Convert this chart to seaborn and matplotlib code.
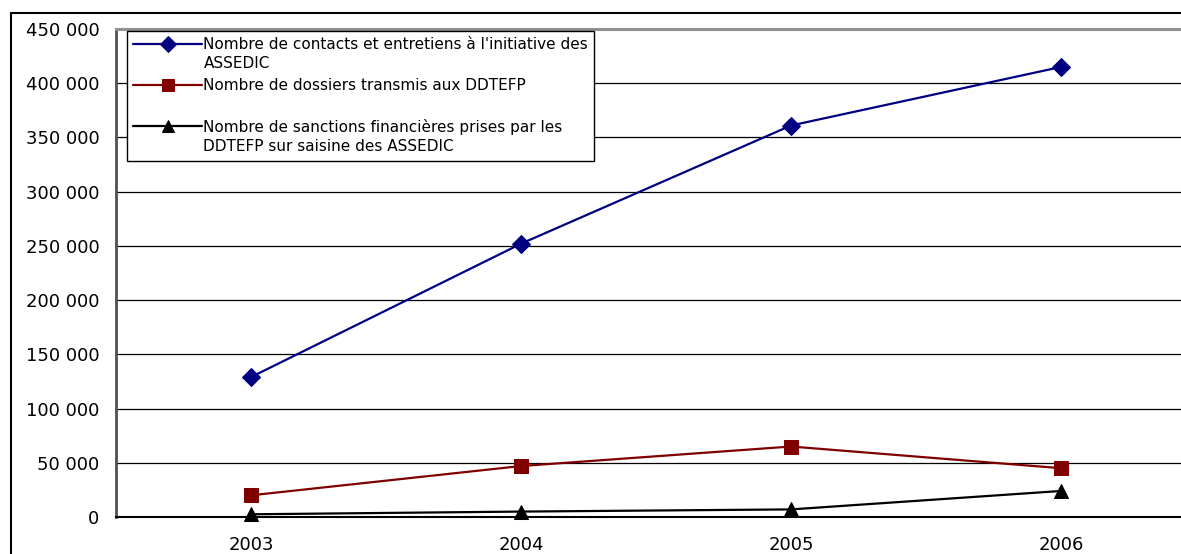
import numpy as np
import pandas as pd
import matplotlib
matplotlib.use("Agg")
import matplotlib.pyplot as plt
import seaborn as sns
from matplotlib.lines import Line2D
from matplotlib.ticker import FuncFormatter, FixedLocator

# data
years = ["2003", "2004", "2005", "2006"]
contacts = [129000, 252000, 361000, 415000]
dossiers = [20000, 47000, 65000, 45000]
sanctions = [2500, 5000, 7000, 24000]

labels = [
    "Nombre de contacts et entretiens à l'initiative des\nASSEDIC",
    "Nombre de dossiers transmis aux DDTEFP\n",
    "Nombre de sanctions financières prises par les\nDDTEFP sur saisine des ASSEDIC",
]
colors = ["#000080", "#800000", "#000000"]
markers = ["D", "s", "^"]
msizes = [9, 10, 10]
yticks = list(range(0, 450001, 50000))

sns.set_style("white")
plt.rcParams["font.family"] = ["DejaVu Sans"]
plt.rcParams["text.color"] = "black"
plt.rcParams["xtick.color"] = "black"
plt.rcParams["ytick.color"] = "black"

fig = plt.figure(figsize=(11.81, 5.54), dpi=100)
ax = fig.add_axes([116 / 1181, 37 / 554, 1080 / 1181, 488 / 554])

x = np.arange(len(years))
for vals, lab, col, mk, ms in zip([contacts, dossiers, sanctions], labels, colors, markers, msizes):
    sns.lineplot(x=x, y=vals, ax=ax, color=col, marker=mk, markersize=ms,
                 markeredgecolor=col, linewidth=1.6, label=lab, clip_on=False)

ax.set_xlim(-0.5, 3.5)
ax.set_ylim(0, 450000)
ax.set_yticks(yticks)
ax.yaxis.set_major_formatter(FuncFormatter(lambda v, p: f"{int(v):,}".replace(",", " ")))
ax.set_xticks(x)
ax.set_xticklabels(years)
ax.xaxis.set_minor_locator(FixedLocator(np.arange(-0.5, 4, 1)))
ax.tick_params(axis="x", which="major", length=0, pad=14, labelsize=13)
ax.tick_params(axis="x", which="minor", length=5, width=1, color="black", direction="out")
ax.tick_params(axis="y", length=5, width=1, color="black", direction="out", pad=7, labelsize=13)
ax.set_xlabel("")
ax.set_ylabel("")

ax.yaxis.grid(True, color="black", linewidth=0.9)
ax.spines["top"].set_color("#909090")
ax.spines["top"].set_linewidth(2.2)
ax.spines["left"].set_color("#505050")
ax.spines["left"].set_linewidth(2)
ax.spines["bottom"].set_color("black")
ax.spines["bottom"].set_linewidth(1.5)
ax.spines["right"].set_visible(False)

leg = ax.legend(loc="upper left", bbox_to_anchor=(0.0102, 0.996), fontsize=11,
                frameon=True, fancybox=False, framealpha=1, edgecolor="black",
                borderpad=0.4, handlelength=4.5, handleheight=1.3, handletextpad=0.1,
                labelspacing=0.45, borderaxespad=0, markerscale=0.85)
leg.get_frame().set_linewidth(1)
for t in leg.get_texts():
    t.set_linespacing(1.35)
for col in leg._legend_handle_box.get_children():
    for row in col.get_children():
        row.align = "top"

# outer chart frame (top and left edges only, the rest is cut off)
fx = 11 / 1181
fy = 1 - 13 / 554
fig.add_artist(Line2D([fx, fx], [-0.05, fy], transform=fig.transFigure, color="black", linewidth=1.5))
fig.add_artist(Line2D([fx, 1.05], [fy, fy], transform=fig.transFigure, color="black", linewidth=1.5))

fig.savefig("out.png", dpi=100)
